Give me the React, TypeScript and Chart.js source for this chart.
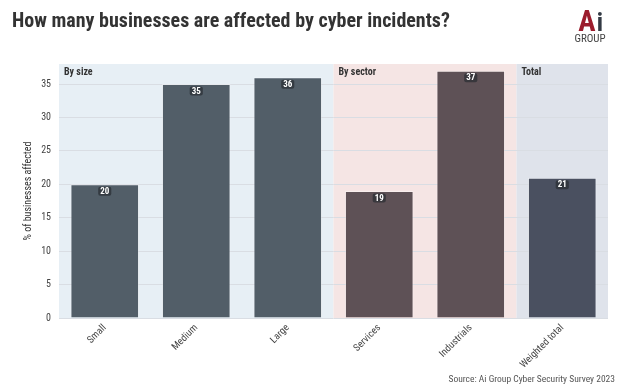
import React, { useEffect, useRef } from "react";
import { Chart, registerables } from "chart.js";

Chart.register(...registerables);

const categories = ["Small", "Medium", "Large", "Services", "Industrials", "Weighted total"];
const values = [20, 35, 36, 19, 37, 21];
const barColors = ["#525e68", "#525e68", "#525e68", "#5e5156", "#5e5156", "#4a5060"];
const groupLabels = ["By size", "By sector", "Total"];
const groupFirst = [0, 3, 5];
const groupLast = [2, 4, 5];
const groupBg = ["#e7eff5", "#f5e5e4", "#dfe3eb"];
const yMax = 38;
const yStep = 5;
const titleText = "How many businesses are affected by cyber incidents?";
const sourceText = "Source: Ai Group Cyber Security Survey 2023";
const yTitle = "% of businesses affected";

const FONT = "'Roboto Condensed', 'Liberation Sans Narrow', 'DejaVu Sans Condensed', Roboto, sans-serif";

const decorPlugin = {
  id: "decor",
  beforeDraw(chart: any) {
    const { ctx, chartArea, scales } = chart;
    const xs = scales.x;
    const n = categories.length;
    const w = (xs.right - xs.left) / n;
    ctx.save();
    for (let g = 0; g < groupLabels.length; g++) {
      const l = xs.left + groupFirst[g] * w;
      const r = xs.left + (groupLast[g] + 1) * w;
      ctx.fillStyle = groupBg[g];
      ctx.fillRect(l, chartArea.top, r - l, chartArea.bottom - chartArea.top);
    }
    ctx.restore();
  },
  afterDatasetsDraw(chart: any) {
    const { ctx, chartArea, scales } = chart;
    const xs = scales.x;
    const n = categories.length;
    const w = (xs.right - xs.left) / n;
    ctx.save();
    ctx.font = `bold 10px ${FONT}`;
    ctx.fillStyle = "#333333";
    ctx.textAlign = "left";
    ctx.textBaseline = "middle";
    for (let g = 0; g < groupLabels.length; g++) {
      const l = xs.left + groupFirst[g] * w;
      ctx.fillText(groupLabels[g], l + 5, chartArea.top + 8);
    }
    const meta = chart.getDatasetMeta(0);
    ctx.font = `bold 9px ${FONT}`;
    ctx.textAlign = "center";
    meta.data.forEach((el: any, i: number) => {
      const txt = String(values[i]);
      const tw = ctx.measureText(txt).width;
      const bw = tw + 4;
      const bh = 9;
      const cx = el.x;
      const cy = el.y + 7;
      ctx.fillStyle = "rgba(40,44,50,0.7)";
      ctx.beginPath();
      (ctx as any).roundRect(cx - bw / 2, cy - bh / 2, bw, bh, 2);
      ctx.fill();
      ctx.fillStyle = "#ffffff";
      ctx.fillText(txt, cx, cy + 0.5);
    });
    ctx.restore();
  },
  afterDraw(chart: any) {
    const { ctx } = chart;
    ctx.save();
    ctx.font = `bold 20px ${FONT}`;
    ctx.fillStyle = "#333333";
    ctx.textAlign = "left";
    ctx.textBaseline = "alphabetic";
    ctx.fillText(titleText, 12, 27);
    // logo
    ctx.textAlign = "center";
    ctx.font = `bold 29px ${FONT}`;
    ctx.fillStyle = "#9b1c2c";
    ctx.fillText("A", 587, 31);
    ctx.fillStyle = "#333a44";
    ctx.font = `bold 25px ${FONT}`;
    ctx.fillText("i", 600, 31);
    ctx.font = `11px ${FONT}`;
    ctx.fillStyle = "#444444";
    ctx.fillText("GROUP", 590, 42);
    // source
    ctx.font = `9.5px ${FONT}`;
    ctx.fillStyle = "#555555";
    ctx.textAlign = "right";
    ctx.fillText(sourceText, 615, 382);
    ctx.restore();
  },
};

export default function App() {
  const ref = useRef<HTMLCanvasElement | null>(null);
  useEffect(() => {
    if (!ref.current) return;
    const chart = new Chart(ref.current, {
      type: "bar",
      data: {
        labels: categories,
        datasets: [
          {
            data: values,
            backgroundColor: barColors,
            borderColor: "rgba(255,255,255,0.35)",
            borderWidth: 1,
            barPercentage: 0.75,
            categoryPercentage: 1,
          },
        ],
      },
      options: {
        animation: false,
        responsive: false,
        maintainAspectRatio: false,
        layout: { padding: { top: 64, left: 0, right: 22, bottom: 0 } },
        plugins: {
          legend: { display: false },
          tooltip: { enabled: false },
          title: { display: false },
        },
        scales: {
          x: {
            grid: { display: false },
            border: { display: false },
            ticks: {
              minRotation: 45,
              maxRotation: 45,
              color: "#444444",
              font: { family: FONT, size: 10 },
              padding: -4,
            },
            afterFit: (s: any) => {
              s.height = 72;
            },
          },
          y: {
            min: 0,
            max: yMax,
            grid: { color: "#d9dde3", drawTicks: false },
            border: { display: false },
            ticks: {
              stepSize: yStep,
              color: "#444444",
              font: { family: FONT, size: 10 },
              padding: 8,
            },
            afterBuildTicks: (s: any) => {
              s.ticks = s.ticks.filter((t: any) => t.value % yStep === 0);
            },
            title: {
              display: true,
              text: yTitle,
              color: "#333333",
              font: { family: FONT, size: 10 },
              padding: { top: 22, bottom: 0 },
            },
            afterFit: (s: any) => {
              s.width = 59;
            },
          },
        },
      },
      plugins: [decorPlugin],
    });
    return () => chart.destroy();
  }, []);
  return (
    <div style={{ position: "absolute", left: 0, top: 0, width: 630, height: 390, background: "#ffffff" }}>
      <canvas ref={ref} width={630} height={390} style={{ width: 630, height: 390 }} />
    </div>
  );
}
